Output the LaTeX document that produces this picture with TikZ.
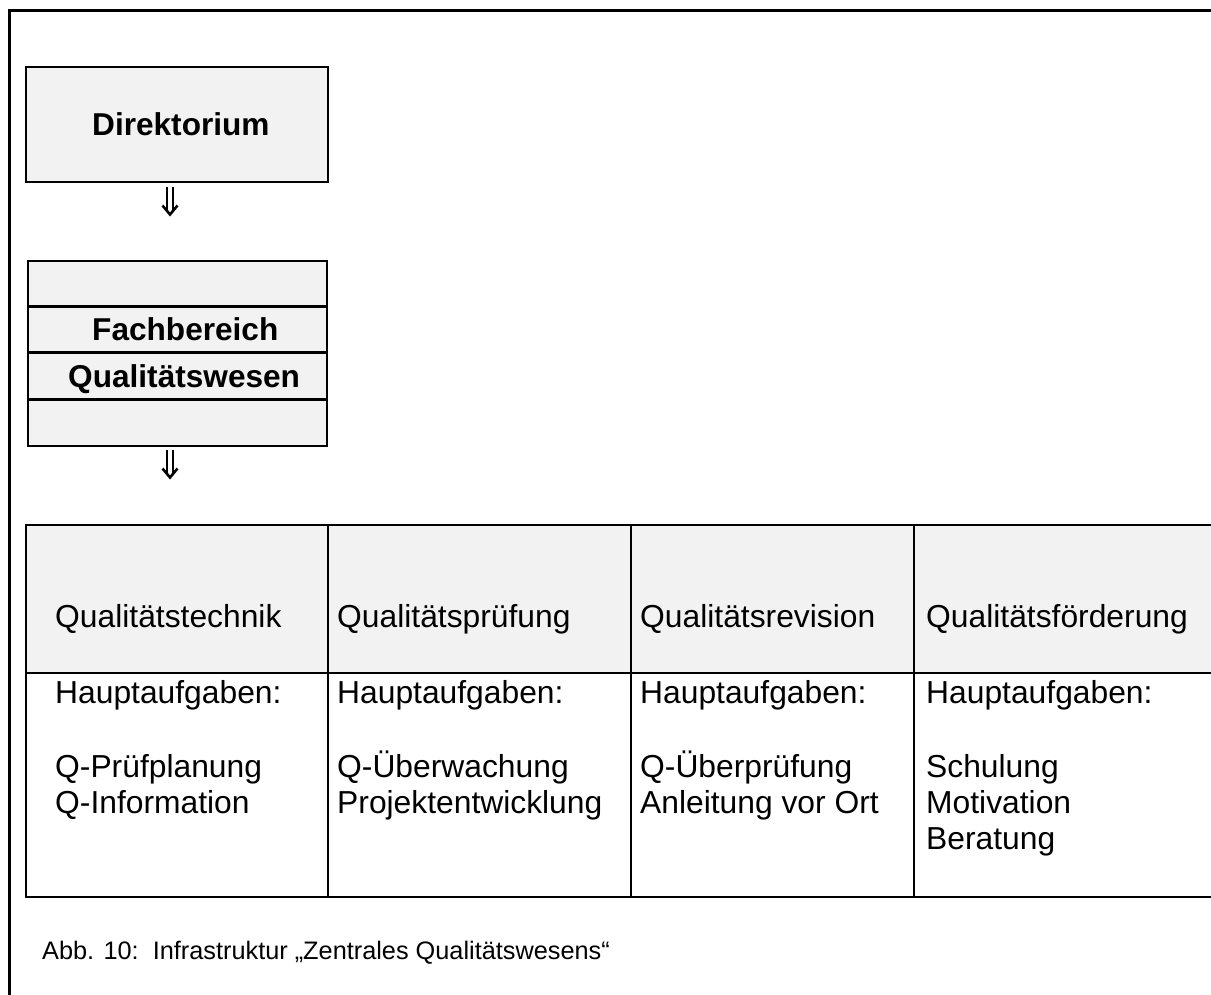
\documentclass[tikz,border=0pt]{standalone}
\usepackage{fontspec}
\setmainfont{Liberation Sans}
\definecolor{boxgray}{HTML}{F2F2F2}
\tikzset{
  frameline/.style={line width=3bp, line cap=rect},
  box/.style={draw, line width=2bp, fill=boxgray, inner sep=0pt, anchor=north west},
  cell/.style={draw, line width=2bp, inner sep=0pt, anchor=north west},
  sepline/.style={line width=3bp},
  lbl/.style={anchor=base west, inner sep=0pt, font=\fontsize{31.8bp}{36bp}\selectfont},
  blbl/.style={anchor=base west, inner sep=0pt, font=\fontsize{31.6bp}{36bp}\selectfont\bfseries},
  caplbl/.style={anchor=base west, inner sep=0pt, font=\fontsize{25.3bp}{30bp}\selectfont},
  shaft/.style={line width=2.2bp},
  head/.style={line width=2.6bp, line join=miter}
}
\begin{document}
\begin{tikzpicture}[x=1bp,y=-1bp]
\useasboundingbox (0,0) rectangle (1211,995);
\clip (0,0) rectangle (1211,995);
\fill[white] (0,0) rectangle (1211,995);

% outer frame (left and top edges)
\draw[frameline] (9,1000) -- (9,10) -- (1220,10);

% Direktorium
\node[box, minimum width=302bp, minimum height=115bp] (dir) at (25,66) {};
\node[blbl] (dirtxt) at (92,135) {Direktorium};

% double arrow 1
\coordinate (arr1) at (170,187);
\begin{scope}[shift={(arr1)}]
  \draw[shaft] (-3.3,0) -- (-3.3,23);
  \draw[shaft] (3.3,0) -- (3.3,23);
  \draw[head] (-7.5,18.5) -- (0,27.5) -- (7.5,18.5);
\end{scope}

% Fachbereich Qualitaetswesen
\node[box, minimum width=299bp, minimum height=185bp] (fach) at (27,260) {};
\coordinate (s1l) at (27,306); \coordinate (s1r) at (326,306);
\coordinate (s2l) at (27,352); \coordinate (s2r) at (326,352);
\coordinate (s3l) at (27,399); \coordinate (s3r) at (326,399);
\draw[sepline] (s1l) -- (s1r);
\draw[sepline] (s2l) -- (s2r);
\draw[sepline] (s3l) -- (s3r);
\node[blbl] (fachtxt) at (92,340) {Fachbereich};
\node[blbl] (qwtxt) at (68,387) {Qualitätswesen};

% double arrow 2
\coordinate (arr2) at (170,450);
\begin{scope}[shift={(arr2)}]
  \draw[shaft] (-3.3,0) -- (-3.3,23);
  \draw[shaft] (3.3,0) -- (3.3,23);
  \draw[head] (-7.5,18.5) -- (0,27.5) -- (7.5,18.5);
\end{scope}

% table header row
\node[cell, fill=boxgray, minimum width=302bp, minimum height=148bp] (h1) at (25,524) {};
\node[cell, fill=boxgray, minimum width=303bp, minimum height=148bp] (h2) at (327,524) {};
\node[cell, fill=boxgray, minimum width=283bp, minimum height=148bp] (h3) at (630,524) {};
\node[cell, fill=boxgray, minimum width=310bp, minimum height=148bp] (h4) at (913,524) {};
% table body row
\node[cell, minimum width=302bp, minimum height=224bp] (b1) at (25,672) {};
\node[cell, minimum width=303bp, minimum height=224bp] (b2) at (327,672) {};
\node[cell, minimum width=283bp, minimum height=224bp] (b3) at (630,672) {};
\node[cell, minimum width=310bp, minimum height=224bp] (b4) at (913,672) {};

% header texts
\node[lbl] (t1) at (55,627) {Qualitätstechnik};
\node[lbl] (t2) at (337,627) {Qualitätsprüfung};
\node[lbl] (t3) at (640,627) {Qualitätsrevision};
\node[lbl] (t4) at (926,627) {Qualitätsförderung};

% body texts
\node[lbl] (a1) at (55,703) {Hauptaufgaben:};
\node[lbl] (a1a) at (55,777) {Q-Prüfplanung};
\node[lbl] (a1b) at (55,813) {Q-Information};

\node[lbl] (a2) at (337,703) {Hauptaufgaben:};
\node[lbl] (a2a) at (337,777) {Q-Überwachung};
\node[lbl] (a2b) at (337,813) {Projektentwicklung};

\node[lbl] (a3) at (640,703) {Hauptaufgaben:};
\node[lbl] (a3a) at (640,777) {Q-Überprüfung};
\node[lbl] (a3b) at (640,813) {Anleitung vor Ort};

\node[lbl] (a4) at (926,703) {Hauptaufgaben:};
\node[lbl] (a4a) at (926,777) {Schulung};
\node[lbl] (a4b) at (926,813) {Motivation};
\node[lbl] (a4c) at (926,849) {Beratung};

% caption
\node[caplbl] (cap) at (42,959) {Abb. 10:\ \ Infrastruktur „Zentrales Qualitätswesens“};
\end{tikzpicture}
\end{document}
